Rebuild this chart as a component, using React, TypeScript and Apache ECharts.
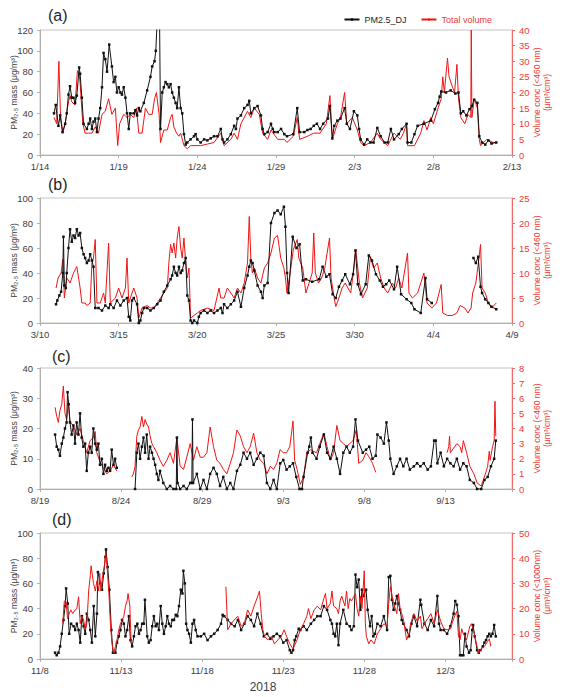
import React, { useEffect, useRef } from 'react';
import * as echarts from 'echarts';

// ---------- tick labels ----------
const ticksA = ['1/14', '1/19', '1/24', '1/29', '2/3', '2/8', '2/13'];
const ticksB = ['3/10', '3/15', '3/20', '3/25', '3/30', '4/4', '4/9'];
const ticksC = ['8/19', '8/24', '8/29', '9/3', '9/8', '9/13'];
const ticksD = ['11/8', '11/13', '11/18', '11/23', '11/28', '12/3'];

// ---------- data: [days since first tick, value] ----------
// (a) 2018-01-14 ... ; PM2.5 (ug/m3) and total volume (um3/cm3)
const pmA = [[0.89,40],[1.0,48],[1.17,28],[1.28,38],[1.43,22],[1.6,30],[1.7,40],[1.81,58],[1.91,66],[2.02,55],[2.13,55],[2.23,50],[2.34,57],[2.49,84],[2.55,78],[2.66,55],[2.77,30],[2.98,25],[3.09,30],[3.19,35],[3.3,25],[3.4,32],[3.51,35],[3.62,22],[3.72,35],[3.83,45],[3.94,65],[4.04,98],[4.15,92],[4.26,80],[4.4,106],[4.57,85],[4.68,70],[4.79,75],[4.89,60],[5.0,65],[5.11,60],[5.21,58],[5.32,65],[5.43,55],[5.53,40],[5.64,25],[5.74,40],[5.96,40],[6.06,43],[6.17,38],[6.28,45],[6.38,42],[6.6,50],[6.81,62],[7.02,75],[7.13,85],[7.28,90],[7.36,100],[7.45,130],[7.6,130],[7.66,25],[7.77,60],[7.87,65],[7.98,70],[8.09,68],[8.19,65],[8.3,68],[8.4,60],[8.51,55],[8.62,50],[8.72,45],[8.83,65],[8.94,45],[9.04,40],[9.15,20],[9.26,10],[9.36,12],[9.57,15],[9.79,18],[9.89,20],[10.0,15],[10.21,12],[10.43,15],[10.64,14],[10.85,16],[11.06,18],[11.28,18],[11.49,25],[11.6,15],[11.7,12],[11.91,15],[12.13,20],[12.34,28],[12.45,25],[12.55,35],[12.77,38],[12.98,45],[13.19,48],[13.3,52],[13.4,40],[13.62,45],[13.83,47],[14.04,38],[14.15,25],[14.26,20],[14.47,22],[14.68,30],[14.79,25],[14.89,22],[15.11,22],[15.32,25],[15.53,20],[15.7,18],[16.1,20],[16.35,45],[16.5,22],[16.8,22],[17.0,24],[17.2,25],[17.4,28],[17.6,30],[17.8,25],[18.0,30],[18.3,35],[18.43,47],[18.58,16],[18.7,28],[18.9,33],[19.1,35],[19.36,45],[19.5,30],[19.7,25],[19.95,42],[20.17,38],[20.28,25],[20.38,15],[20.6,10],[20.8,15],[21.0,12],[21.2,12],[21.44,26],[21.65,18],[21.9,12],[22.1,12],[22.3,25],[22.5,15],[22.8,20],[23.0,25],[23.3,30],[23.36,12],[23.6,12],[23.8,20],[24.0,28],[24.4,30],[24.84,33],[25.1,44],[25.3,50],[25.4,56],[25.5,61],[25.8,60],[26.1,62],[26.4,59],[26.6,60],[26.75,40],[26.9,42],[27.1,38],[27.3,44],[27.45,47],[27.6,53],[27.8,50],[27.92,18],[28.1,12],[28.3,10],[28.5,14],[28.7,11],[29.0,12]];
const volA = [[0.89,12],[1.06,10],[1.2,30],[1.3,13],[1.45,7],[1.6,10],[1.81,17],[1.91,19],[2.02,17],[2.23,16],[2.38,27],[2.49,26],[2.55,23],[2.72,10],[2.87,7],[3.09,7],[3.3,7],[3.51,9],[3.72,7],[3.94,13],[4.15,14],[4.36,18],[4.57,13],[4.79,15],[4.94,3],[5.06,10],[5.32,13],[5.53,12],[5.74,13],[5.96,12],[6.13,15],[6.28,7],[6.49,7],[6.7,15],[6.91,13],[7.13,13],[7.28,18],[7.4,20],[7.57,13],[7.66,4],[7.87,8],[8.09,8],[8.3,12],[8.4,13],[8.51,9],[8.68,7],[8.83,6],[8.94,7],[9.15,3],[9.36,2],[9.57,3],[9.79,3],[10.21,3],[10.64,3.5],[11.06,4],[11.49,7],[11.7,3],[12.13,5],[12.34,7],[12.55,5],[12.77,10],[13.19,14],[13.4,12],[13.62,15],[13.94,13],[14.15,7],[14.47,5],[14.68,8],[15.11,5],[15.53,5],[15.7,4],[16.1,6],[16.35,12],[16.5,5],[17.0,6],[17.4,7],[17.8,7],[18.2,10],[18.43,19],[18.58,5],[18.9,10],[19.1,12],[19.36,20],[19.5,10],[19.85,12],[20.17,8],[20.38,4],[20.6,3],[21.0,4],[21.44,7],[21.65,5],[22.1,3],[22.5,7],[22.9,5],[23.1,7],[23.3,10],[23.36,3],[23.8,3],[24.2,7],[24.4,11],[24.6,8],[24.84,12],[25.0,10],[25.3,15],[25.5,18],[25.6,25],[25.7,20],[25.9,31],[26.0,25],[26.2,22],[26.35,20],[26.5,29],[26.6,18],[26.75,12],[27.0,10],[27.2,13],[27.38,12],[27.41,40],[27.45,12],[27.6,18],[27.8,15],[27.92,5],[28.0,3],[28.4,5],[28.8,4],[29.0,4]];

// (b) 2018-03-10 ...
const pmB = [[1.02,15],[1.1,18],[1.23,22],[1.34,25],[1.45,40],[1.49,69],[1.55,30],[1.64,28],[1.7,40],[1.81,60],[1.91,75],[2.02,65],[2.13,70],[2.23,68],[2.34,75],[2.45,70],[2.55,72],[2.66,60],[2.77,55],[2.87,52],[2.98,48],[3.09,50],[3.19,55],[3.3,50],[3.4,45],[3.51,12],[3.72,12],[3.94,10],[4.15,14],[4.36,12],[4.47,15],[4.68,12],[4.89,18],[5.11,14],[5.32,18],[5.53,20],[5.64,5],[5.74,2],[5.85,18],[5.96,20],[6.17,15],[6.28,0],[6.38,2],[6.49,8],[6.6,12],[6.81,12],[7.02,10],[7.23,12],[7.45,15],[7.66,18],[7.87,25],[8.09,30],[8.3,35],[8.4,38],[8.51,45],[8.62,40],[8.72,38],[8.83,45],[8.94,40],[9.04,42],[9.15,48],[9.26,52],[9.36,22],[9.47,18],[9.57,2],[9.68,0],[9.79,2],[10.0,0],[10.1,5],[10.21,8],[10.43,10],[10.64,8],[10.85,10],[11.06,8],[11.28,10],[11.49,12],[11.6,8],[11.7,15],[11.91,12],[12.13,15],[12.34,18],[12.55,25],[12.77,13],[12.98,28],[13.19,38],[13.3,45],[13.4,50],[13.51,48],[13.62,42],[13.83,30],[14.04,25],[14.15,20],[14.26,30],[14.47,32],[14.68,80],[14.9,88],[15.1,90],[15.3,87],[15.5,93],[15.6,77],[15.7,40],[15.8,24],[16.06,69],[16.3,60],[16.5,63],[16.7,34],[16.9,35],[17.3,33],[17.75,35],[17.96,45],[18.2,37],[18.4,39],[18.6,23],[18.8,20],[19.0,29],[19.2,34],[19.4,39],[19.7,31],[19.9,39],[20.05,58],[20.2,31],[20.4,23],[20.7,31],[20.9,54],[21.1,50],[21.35,39],[21.6,34],[21.8,29],[22.0,31],[22.2,34],[22.5,27],[22.7,45],[22.95,23],[23.3,19],[23.6,16],[23.8,11],[24.2,8],[24.5,36],[24.6,19],[24.9,16],[26.2,null],[27.55,52],[27.7,48],[27.85,53],[28.0,29],[28.1,24],[28.3,19],[28.5,16],[28.7,13],[29.0,11]];
const volB = [[1.02,7],[1.15,9],[1.34,10],[1.45,12.7],[1.55,5],[1.7,9],[1.91,8],[2.13,10],[2.34,11.3],[2.55,7],[2.66,4],[2.87,4],[2.98,3.5],[3.19,4],[3.3,12],[3.4,13],[3.51,16.7],[3.62,4],[3.83,4],[4.04,6],[4.15,4],[4.36,16],[4.47,4],[4.79,5],[5.0,7],[5.21,5],[5.43,7],[5.53,13],[5.64,4],[5.85,6],[5.96,7],[6.17,5],[6.28,1],[6.49,3],[6.81,3.5],[7.02,3],[7.23,3],[7.45,4],[7.66,5],[7.87,6],[8.09,7],[8.19,12],[8.3,15.7],[8.4,14],[8.51,16],[8.62,13],[8.72,17],[8.83,19.3],[8.94,15],[9.04,13],[9.15,17],[9.26,12],[9.36,9],[9.47,11],[9.57,1],[9.79,1.5],[10.0,2],[10.21,2.5],[10.64,3],[11.06,2.5],[11.38,7],[11.49,5],[11.7,5],[11.91,7],[12.13,6],[12.34,5],[12.55,7],[12.77,6],[12.98,8],[13.19,12],[13.3,21.3],[13.4,13],[13.5,10],[13.62,11],[13.83,9],[14.04,8],[14.26,11],[14.47,12],[14.68,14],[14.9,17],[15.1,17.5],[15.3,13],[15.5,11],[15.6,9],[15.7,6],[15.9,10],[16.1,14.7],[16.35,16.7],[16.45,13],[16.7,11],[16.9,6],[17.1,8],[17.3,10],[17.4,18],[17.5,10],[17.7,8],[17.9,9],[18.1,11],[18.4,17],[18.5,9],[18.7,5],[18.8,3.3],[19.0,5],[19.2,7],[19.4,8],[19.75,6],[19.95,11],[20.07,14.7],[20.3,8],[20.5,5],[20.8,7],[21.0,13.3],[21.2,11],[21.44,12],[21.65,9],[21.87,7],[22.1,6],[22.4,8],[22.6,7],[22.8,9],[23.0,7],[23.36,14],[23.45,6],[23.67,5],[24.0,6],[24.4,10],[24.6,4],[24.9,3],[25.2,4],[25.5,7.7],[25.6,2],[25.9,1.5],[26.2,1.5],[26.5,2],[26.7,3.5],[27.0,3],[27.2,2],[27.4,3],[27.5,6],[27.7,8],[27.9,13],[28.0,15.7],[28.1,7],[28.3,6],[28.5,4],[28.7,3],[29.0,4]];

// (c) 2018-08-19 ...
const pmC = [[0.93,18],[1.03,14],[1.13,13],[1.23,11],[1.34,15],[1.44,17],[1.54,20],[1.64,22],[1.7,32],[1.77,28],[1.85,22],[1.95,18],[2.06,21],[2.16,15],[2.26,22],[2.37,18],[2.47,25],[2.57,17],[2.67,14],[2.78,15],[2.88,6],[2.98,12],[3.09,14],[3.19,12],[3.29,20],[3.4,15],[3.5,13],[3.6,15],[3.7,8],[3.81,10],[3.91,5],[4.01,8],[4.12,6],[4.22,7],[4.32,6],[4.42,13],[4.53,8],[4.63,10],[4.73,7],[5.3,null],[5.86,0],[5.97,12],[6.07,15],[6.17,10],[6.28,14],[6.38,17],[6.48,12],[6.58,18],[6.69,10],[6.79,14],[6.9,12],[7.0,10],[7.1,8],[7.2,5],[7.3,3],[7.4,6],[7.6,2],[7.82,0],[8.02,1],[8.23,0],[8.4,0],[8.44,17],[8.48,2],[8.64,0],[8.85,1],[9.05,0],[9.26,2],[9.36,2],[9.4,23],[9.44,2],[9.67,5],[9.88,0],[10.08,3],[10.29,0],[10.49,5],[10.7,7],[10.9,5],[11.1,1],[11.3,4],[11.52,0],[11.73,2],[11.93,0],[12.14,6],[12.35,8],[12.55,12],[12.76,10],[12.96,12],[13.17,8],[13.37,10],[13.58,12],[13.79,11],[13.99,2],[14.2,0],[14.4,3],[14.6,0],[14.81,8.5],[15.0,9.6],[15.2,6.4],[15.4,7.5],[15.6,8.5],[15.8,4],[16.0,0],[16.15,0],[16.25,4],[16.5,12],[16.6,14],[16.7,17],[16.8,12],[17.05,10],[17.25,14],[17.5,18],[17.7,12],[17.9,10],[18.1,14],[18.3,10],[18.5,5],[18.7,12],[18.9,14],[19.1,12],[19.3,14],[19.45,23],[19.6,16],[19.9,12],[20.1,13],[20.3,14],[20.5,10],[20.7,11],[20.8,18],[21.0,17],[21.2,15],[21.36,22],[21.5,16],[21.6,10],[21.8,5],[22.0,7.5],[22.2,10],[22.4,7.5],[22.6,10],[22.8,6.4],[23.05,7.5],[23.25,8.5],[23.45,7.5],[23.66,8.5],[23.9,6.4],[24.1,7.5],[24.3,16],[24.4,16],[24.5,8.5],[24.7,12],[24.9,7.5],[25.1,10],[25.3,8.5],[25.5,7.5],[25.7,10],[25.9,6.4],[26.1,8.5],[26.3,7.5],[26.5,3],[26.75,2],[26.95,0],[27.2,0],[27.4,3],[27.6,4],[27.8,7.5],[28.0,10],[28.1,16]];
const volC = [[0.93,5.4],[1.03,4.8],[1.13,4.4],[1.23,5.2],[1.34,5.6],[1.44,6.8],[1.54,5.0],[1.64,4.6],[1.75,5.6],[1.85,4.4],[2.06,4.2],[2.26,3.6],[2.47,4.0],[2.67,3.2],[2.88,2.4],[3.09,3.2],[3.29,3.4],[3.4,3.8],[3.5,2.4],[3.7,1.8],[3.91,1.4],[4.12,1.0],[4.32,1.2],[4.53,1.6],[4.73,1.2],[5.2,null],[5.66,0.8],[5.76,1.0],[5.86,1.5],[5.97,3.5],[6.07,3.9],[6.17,4.1],[6.28,4.8],[6.38,4.1],[6.48,4.6],[6.58,4.3],[6.69,4.1],[6.79,3.5],[6.9,3.0],[7.0,2.8],[7.2,2.4],[7.4,1.9],[7.6,1.5],[7.82,1.9],[8.02,2.4],[8.23,1.7],[8.44,3.4],[8.64,1.5],[8.85,1.3],[9.05,2.1],[9.26,3.0],[9.46,1.9],[9.67,2.8],[9.88,2.1],[10.08,2.1],[10.29,2.4],[10.49,4.1],[10.7,2.8],[10.9,1.9],[11.1,1.7],[11.3,1.3],[11.52,1.0],[11.73,1.7],[11.93,2.4],[12.14,3.9],[12.35,3.5],[12.55,2.8],[12.76,2.4],[12.96,2.8],[13.17,3.7],[13.37,2.4],[13.58,1.9],[13.79,1.7],[13.99,1.0],[14.2,1.5],[14.4,1.3],[14.6,1.7],[14.8,2.6],[15.0,2.4],[15.2,2.4],[15.4,2.8],[15.6,4.5],[15.7,1.9],[15.85,1.3],[16.05,0.3],[16.25,0.8],[16.45,2.4],[16.7,2.6],[16.85,2.5],[17.05,2.4],[17.25,3.0],[17.5,3.7],[17.7,2.8],[17.9,1.9],[18.1,2.4],[18.3,4.2],[18.5,3.2],[18.7,3.0],[18.9,2.8],[19.1,3.0],[19.3,3.2],[19.5,3.9],[19.65,1.7],[19.9,1.9],[20.1,2.4],[20.3,2.1],[20.5,1.7],[20.7,1.1],[22.9,null],[25.1,2.4],[25.2,2.8],[25.25,3.5],[25.3,2.4],[25.7,3.0],[25.9,2.8],[26.0,2.4],[26.1,3.2],[26.3,2.4],[26.5,1.5],[26.75,1.0],[26.95,0.4],[27.2,0.2],[27.4,0.8],[27.6,1.5],[27.7,2.5],[27.75,1.9],[27.9,2.8],[28.0,3.2],[28.05,5.8],[28.1,3.5]];

// (d) 2018-11-08 ...
const pmD = [[0.93,5],[1.03,3],[1.14,5],[1.24,10],[1.34,20],[1.45,31],[1.55,42],[1.61,56],[1.71,44],[1.8,20],[1.92,28],[2.07,26],[2.17,23],[2.27,28],[2.38,23],[2.48,13],[2.58,34],[2.69,26],[2.79,20],[2.89,36],[3.0,31],[3.1,23],[3.2,13],[3.31,42],[3.41,18],[3.51,36],[3.57,69],[3.72,60],[3.82,55],[3.93,68],[4.03,81],[4.07,87],[4.17,73],[4.28,55],[4.4,23],[4.5,5],[4.65,5],[4.75,13],[4.86,18],[4.96,23],[5.06,31],[5.17,28],[5.27,18],[5.37,23],[5.48,34],[5.58,15],[5.68,10],[5.79,18],[5.89,26],[6.0,28],[6.1,20],[6.2,23],[6.3,28],[6.4,28],[6.47,47],[6.61,18],[6.71,13],[6.82,15],[6.92,26],[7.02,34],[7.13,26],[7.23,28],[7.33,23],[7.44,42],[7.54,28],[7.64,20],[7.75,26],[7.85,34],[7.95,28],[8.06,26],[8.16,31],[8.26,31],[8.37,35],[8.47,34],[8.57,42],[8.68,55],[8.78,52],[8.84,70],[8.93,60],[9.01,28],[9.09,23],[9.19,20],[9.3,13],[9.4,28],[9.5,31],[9.6,23],[9.71,18],[9.92,18],[10.12,20],[10.33,15],[10.54,18],[10.74,20],[10.95,23],[11.16,28],[11.26,35],[11.36,34],[11.57,31],[11.78,28],[12.0,26],[12.2,31],[12.4,23],[12.6,28],[12.8,34],[13.0,31],[13.2,26],[13.4,36],[13.6,28],[13.8,18],[14.0,20],[14.2,16],[14.4,18],[14.6,20],[14.8,18],[15.0,13],[15.2,15],[15.4,7],[15.5,5],[15.6,7],[15.7,15],[15.8,18],[15.95,24],[16.05,23],[16.25,26],[16.45,23],[16.7,28],[16.9,31],[17.1,34],[17.3,34],[17.5,42],[17.7,39],[17.9,31],[18.0,28],[18.1,20],[18.2,18],[18.3,28],[18.4,11],[18.5,28],[18.7,39],[18.9,28],[19.1,26],[19.2,23],[19.35,26],[19.45,67],[19.55,57],[19.65,63],[19.75,39],[19.85,55],[19.95,50],[20.1,55],[20.2,39],[20.35,26],[20.45,34],[20.55,18],[20.65,20],[20.8,28],[21.0,26],[21.2,34],[21.4,23],[21.5,65],[21.6,66],[21.7,47],[21.8,39],[21.9,44],[22.0,50],[22.1,44],[22.2,39],[22.3,31],[22.4,28],[22.6,23],[22.75,18],[22.9,28],[23.05,34],[23.25,26],[23.45,47],[23.5,43],[23.7,28],[23.9,23],[24.1,31],[24.3,26],[24.5,50],[24.6,28],[24.7,23],[24.9,23],[25.1,20],[25.3,26],[25.5,36],[25.6,46],[25.7,43],[25.8,34],[25.9,3],[26.0,3],[26.1,3],[26.2,20],[26.3,10],[26.45,5],[26.55,7],[26.65,23],[26.7,27],[26.8,18],[26.95,7],[27.05,5],[27.15,7],[27.3,10],[27.4,13],[27.5,15],[27.6,18],[27.7,20],[27.8,18],[27.9,20],[28.0,27],[28.1,18]];
const volD = [[1.4,14],[1.5,23],[1.6,23],[1.7,16],[1.8,18],[1.9,19.5],[2.02,18],[2.17,19.5],[2.27,20],[2.38,24.7],[2.48,14],[2.58,17],[2.69,15.5],[2.79,11.6],[2.89,14],[3.0,27],[3.1,33],[3.15,37],[3.3,30],[3.41,27],[3.51,31],[3.62,27],[3.68,34],[3.76,27],[3.86,33],[3.97,37],[4.05,42.5],[4.13,37],[4.24,27],[4.34,14],[4.44,6],[4.55,2.4],[4.65,5],[4.75,7.6],[4.86,11.6],[4.96,14],[5.06,15.5],[5.17,17],[5.27,21],[5.37,23],[5.43,26],[5.54,21],[5.62,6],[8.5,null],[11.46,28.7],[11.57,11.6],[11.78,14],[11.98,15.5],[12.19,17],[12.4,13],[12.6,14],[12.8,19.5],[13.0,17],[13.2,21],[13.43,25],[13.53,27],[13.64,18],[13.74,11.6],[13.84,9],[14.05,7.6],[14.26,9],[14.46,6],[14.67,7.6],[14.88,9],[15.05,11.6],[15.2,9],[15.4,6],[15.6,4],[15.85,7.6],[16.05,11.6],[16.25,14],[16.45,17],[16.55,20],[16.7,16],[16.9,19.5],[17.1,21],[17.3,19.5],[17.5,24],[17.6,26],[17.7,20],[17.9,22],[18.0,27],[18.1,21],[18.3,20],[18.4,18],[18.5,23],[18.6,25],[18.8,21],[18.9,27],[19.0,20],[19.1,24],[19.2,23],[19.45,26],[19.55,20],[19.65,17],[19.75,25],[19.85,20],[19.99,35],[20.06,14],[20.12,9],[20.27,6],[20.4,7.6],[20.6,6],[20.8,10],[21.0,12],[21.2,14],[21.4,13],[21.5,22],[21.6,28.7],[21.8,22],[22.0,18],[22.1,26],[22.2,20],[22.4,16],[22.6,7.6],[22.75,10],[22.85,14],[23.05,18],[23.25,15],[23.45,17],[23.55,12],[23.7,14],[23.9,16],[24.1,18],[24.3,14],[24.5,19.5],[24.7,15],[24.9,12],[25.1,11.6],[25.3,12],[25.5,16],[25.7,19],[25.8,9],[25.9,7.6],[26.0,12],[26.1,10],[26.2,9],[26.3,7.6],[26.5,13],[26.6,14],[26.7,12],[26.95,5],[27.05,2.4],[27.2,4],[27.4,5],[27.6,7],[27.7,8],[27.8,5]];

// ---------- styling ----------
const FONT = "'Liberation Sans', Arial, sans-serif";
const BLACK = '#111111';
const RED = '#f01414';
const RED_AXIS = '#f06a6a';
const RED_TEXT = '#ee3a3a';
const GREY_AXIS = '#b0b0b0';
const GREY_TEXT = '#404040';

const panels = [
  { label: '(a)', labelX: 48, labelY: 15, top: 30, height: 125, xMax: 30, ticks: ticksA, pmMax: 120, pmStep: 20, volMax: 40, volStep: 5, volName: 'Volume conc (<460 nm)', pm: pmA, vol: volA, redOnTop: false },
  { label: '(b)', labelX: 48, labelY: 184, top: 198, height: 125, xMax: 30, ticks: ticksB, pmMax: 100, pmStep: 20, volMax: 25, volStep: 5, volName: 'Volume conc (<460 nm)', pm: pmB, vol: volB, redOnTop: false },
  { label: '(c)', labelX: 52, labelY: 356, top: 368, height: 121, xMax: 29.1, ticks: ticksC, pmMax: 40, pmStep: 10, volMax: 8, volStep: 1, volName: 'Volume conc (<460 nm)', pm: pmC, vol: volC, redOnTop: false },
  { label: '(d)', labelX: 52, labelY: 519, top: 533, height: 126, xMax: 29.1, ticks: ticksD, pmMax: 100, pmStep: 20, volMax: 50, volStep: 10, volName: 'Volume conc (<1000nm)', pm: pmD, vol: volD, redOnTop: true },
];

function buildOption() {
  const grid: any[] = [];
  const xAxis: any[] = [];
  const yAxis: any[] = [];
  const series: any[] = [];
  const graphic: any[] = [];

  panels.forEach((p, i) => {
    grid.push({ left: 40, width: 472, top: p.top, height: p.height, show: true, borderColor: '#c4c4c4', borderWidth: 1, containLabel: false });
    const ticks = p.ticks;
    xAxis.push({
      type: 'value', gridIndex: i, min: 0, max: p.xMax, interval: 5,
      axisLine: { show: true, onZero: false, lineStyle: { color: GREY_AXIS } },
      axisTick: { show: true, length: 3, lineStyle: { color: GREY_AXIS } },
      splitLine: { show: false },
      axisLabel: {
        margin: 6, fontSize: 9.5, color: GREY_TEXT, fontFamily: FONT,
        formatter: (v: number) => {
          const k = Math.round(v / 5);
          return Math.abs(v - k * 5) < 1e-6 && ticks[k] ? ticks[k] : '';
        },
      },
    });
    yAxis.push({
      type: 'value', gridIndex: i, position: 'left', min: 0, max: p.pmMax, interval: p.pmStep,
      axisLine: { show: true, lineStyle: { color: GREY_AXIS } },
      axisTick: { show: true, length: 3, lineStyle: { color: GREY_AXIS } },
      splitLine: { show: false },
      axisLabel: { margin: 7, fontSize: 9.5, color: GREY_TEXT, fontFamily: FONT },
      name: 'PM₂.₅ mass (μg/m³)',
      nameLocation: 'middle', nameRotate: 90, nameGap: 22, nameMoveOverlap: false,
      nameTextStyle: { fontSize: 8.5, color: GREY_TEXT, fontFamily: FONT },
    });
    yAxis.push({
      type: 'value', gridIndex: i, position: 'right', min: 0, max: p.volMax, interval: p.volStep,
      axisLine: { show: true, lineStyle: { color: RED_AXIS } },
      axisTick: { show: true, length: 3, lineStyle: { color: RED_AXIS } },
      splitLine: { show: false },
      axisLabel: { margin: 7, fontSize: 9.5, color: RED_TEXT, fontFamily: FONT },
      name: p.volName + '\n(μm³/cm³)',
      nameLocation: 'middle', nameRotate: 90, nameGap: 20, nameMoveOverlap: false,
      nameTextStyle: { fontSize: 8.5, color: RED_TEXT, fontFamily: FONT, lineHeight: 10 },
    });
    series.push({
      type: 'line', name: 'Total volume', xAxisIndex: i, yAxisIndex: 2 * i + 1,
      data: p.vol, showSymbol: false, symbol: 'none', connectNulls: false,
      lineStyle: { color: RED, width: 1 }, itemStyle: { color: RED },
      z: p.redOnTop ? 4 : 2,
    });
    series.push({
      type: 'line', name: 'PM2.5_DJ', xAxisIndex: i, yAxisIndex: 2 * i,
      data: p.pm, symbol: 'rect', symbolSize: 2.5, showSymbol: true, connectNulls: false,
      lineStyle: { color: BLACK, width: 1 }, itemStyle: { color: BLACK },
      z: 3,
    });
    graphic.push({
      type: 'text', x: p.labelX, y: p.labelY,
      style: { text: p.label, fontSize: 16, fontFamily: FONT, fill: '#262626', verticalAlign: 'middle', align: 'left' },
    });
  });

  graphic.push({
    type: 'text', x: 263, y: 687,
    style: { text: '2018', fontSize: 12, fontFamily: FONT, fill: GREY_TEXT, verticalAlign: 'middle', align: 'center' },
  });

  return {
    animation: false,
    backgroundColor: '#ffffff',
    textStyle: { fontFamily: FONT },
    legend: {
      top: 10, right: 74, itemWidth: 15, itemHeight: 3, itemGap: 14,
      textStyle: { fontSize: 9, fontFamily: FONT },
      data: [
        { name: 'PM2.5_DJ', textStyle: { color: '#262626' } },
        { name: 'Total volume', textStyle: { color: RED_TEXT } },
      ],
    },
    grid, xAxis, yAxis, series, graphic,
  };
}

export default function App() {
  const ref = useRef<HTMLDivElement>(null);
  useEffect(() => {
    if (!ref.current) return;
    const chart = echarts.init(ref.current, undefined, { renderer: 'svg' });
    chart.setOption(buildOption() as any);
    return () => chart.dispose();
  }, []);
  return <div ref={ref} style={{ position: 'absolute', left: 0, top: 0, width: 571, height: 697 }} />;
}
